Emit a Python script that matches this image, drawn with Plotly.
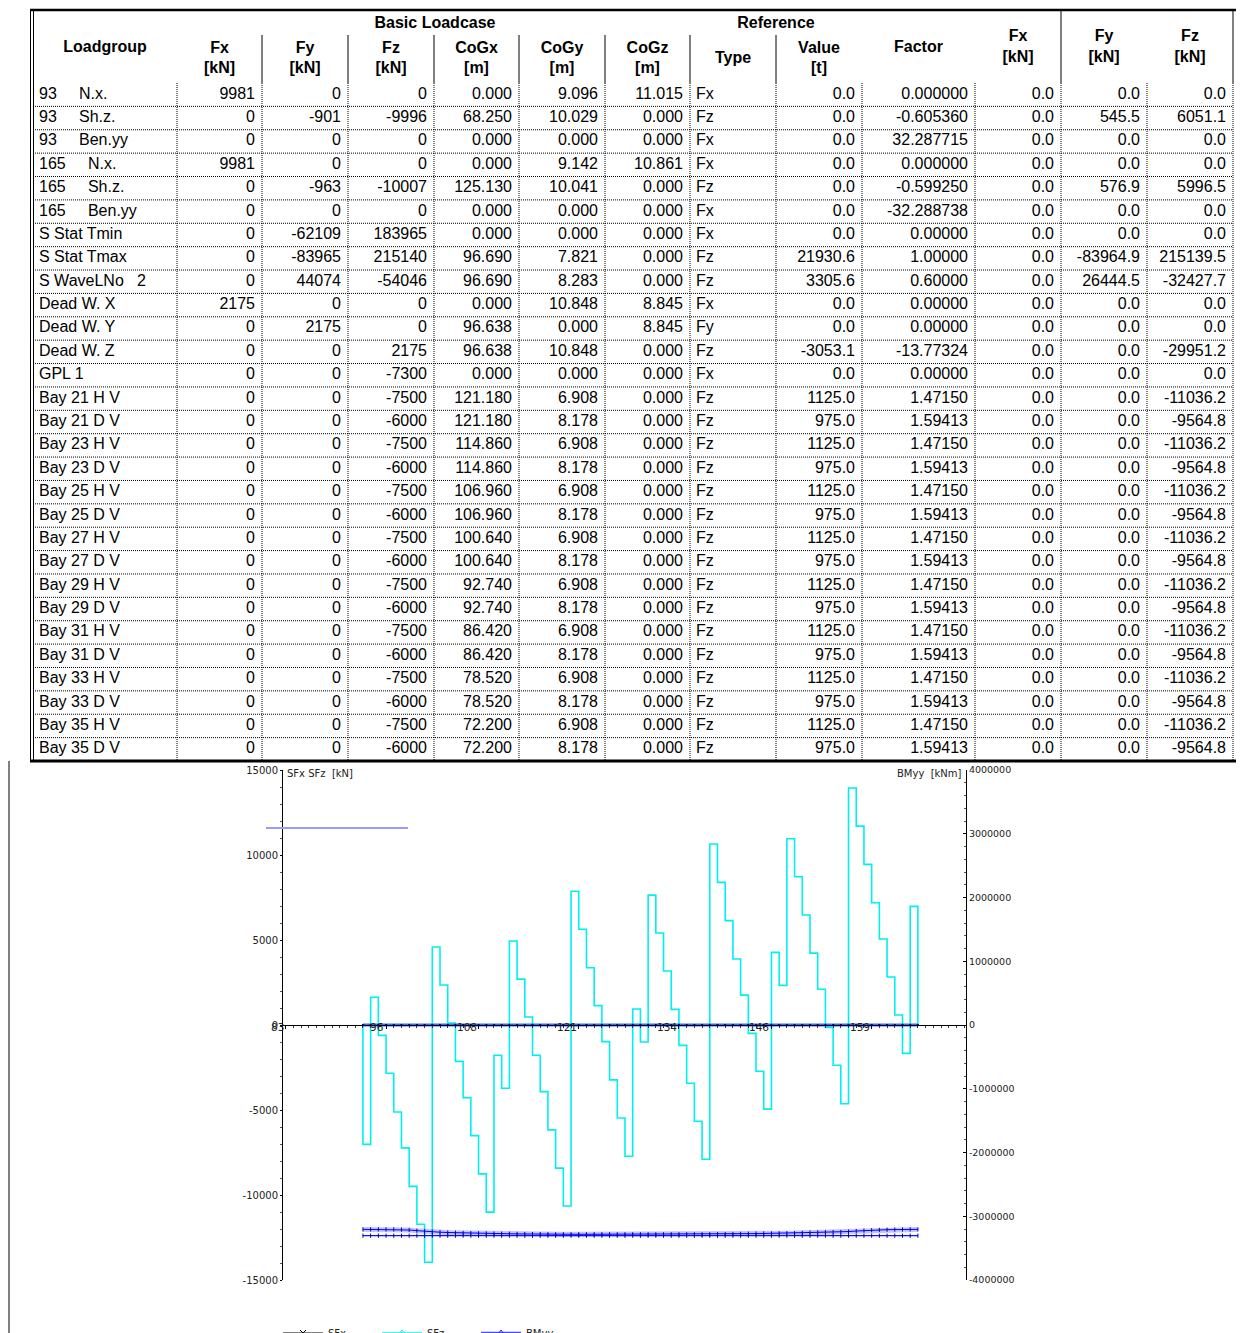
import plotly.graph_objects as go

FIG_W, FIG_H = 1245, 1333
OFF = 8  # page body margin: figure origin sits 8px right/down in the window

# ======================= TABLE DATA =======================
group_labels = ["Basic Loadcase", "Reference"]
column_labels = ["Loadgroup", "Fx<br>[kN]", "Fy<br>[kN]", "Fz<br>[kN]", "CoGx<br>[m]", "CoGy<br>[m]",
                 "CoGz<br>[m]", "Type", "Value<br>[t]", "Factor", "Fx<br>[kN]", "Fy<br>[kN]", "Fz<br>[kN]"]

NB = "\u00a0"
loadgroup = ["93" + NB * 5 + "N.x.", "93" + NB * 5 + "Sh.z.", "93" + NB * 5 + "Ben.yy",
             "165" + NB * 5 + "N.x.", "165" + NB * 5 + "Sh.z.", "165" + NB * 5 + "Ben.yy",
             "S Stat Tmin", "S Stat Tmax", "S WaveLNo" + NB * 3 + "2",
             "Dead W. X", "Dead W. Y", "Dead W. Z", "GPL 1",
             "Bay 21 H V", "Bay 21 D V", "Bay 23 H V", "Bay 23 D V", "Bay 25 H V", "Bay 25 D V",
             "Bay 27 H V", "Bay 27 D V", "Bay 29 H V", "Bay 29 D V", "Bay 31 H V", "Bay 31 D V",
             "Bay 33 H V", "Bay 33 D V", "Bay 35 H V", "Bay 35 D V"]
basic_fx = ["9981", "0", "0", "9981", "0", "0", "0", "0", "0", "2175", "0", "0", "0",
            "0", "0", "0", "0", "0", "0", "0", "0", "0", "0", "0", "0", "0", "0", "0", "0"]
basic_fy = ["0", "-901", "0", "0", "-963", "0", "-62109", "-83965", "44074", "0", "2175", "0", "0",
            "0", "0", "0", "0", "0", "0", "0", "0", "0", "0", "0", "0", "0", "0", "0", "0"]
basic_fz = ["0", "-9996", "0", "0", "-10007", "0", "183965", "215140", "-54046", "0", "0", "2175", "-7300",
            "-7500", "-6000", "-7500", "-6000", "-7500", "-6000", "-7500", "-6000",
            "-7500", "-6000", "-7500", "-6000", "-7500", "-6000", "-7500", "-6000"]
cog_x = ["0.000", "68.250", "0.000", "0.000", "125.130", "0.000", "0.000", "96.690", "96.690", "0.000",
         "96.638", "96.638", "0.000", "121.180", "121.180", "114.860", "114.860", "106.960", "106.960",
         "100.640", "100.640", "92.740", "92.740", "86.420", "86.420", "78.520", "78.520", "72.200", "72.200"]
cog_y = ["9.096", "10.029", "0.000", "9.142", "10.041", "0.000", "0.000", "7.821", "8.283", "10.848",
         "0.000", "10.848", "0.000", "6.908", "8.178", "6.908", "8.178", "6.908", "8.178", "6.908", "8.178",
         "6.908", "8.178", "6.908", "8.178", "6.908", "8.178", "6.908", "8.178"]
cog_z = ["11.015", "0.000", "0.000", "10.861", "0.000", "0.000", "0.000", "0.000", "0.000", "8.845",
         "8.845", "0.000", "0.000", "0.000", "0.000", "0.000", "0.000", "0.000", "0.000", "0.000", "0.000",
         "0.000", "0.000", "0.000", "0.000", "0.000", "0.000", "0.000", "0.000"]
ref_type = ["Fx", "Fz", "Fx", "Fx", "Fz", "Fx", "Fx", "Fz", "Fz", "Fx", "Fy", "Fz", "Fx",
            "Fz", "Fz", "Fz", "Fz", "Fz", "Fz", "Fz", "Fz", "Fz", "Fz", "Fz", "Fz", "Fz", "Fz", "Fz", "Fz"]
ref_value = ["0.0", "0.0", "0.0", "0.0", "0.0", "0.0", "0.0", "21930.6", "3305.6", "0.0", "0.0", "-3053.1",
             "0.0", "1125.0", "975.0", "1125.0", "975.0", "1125.0", "975.0", "1125.0", "975.0",
             "1125.0", "975.0", "1125.0", "975.0", "1125.0", "975.0", "1125.0", "975.0"]
ref_factor = ["0.000000", "-0.605360", "32.287715", "0.000000", "-0.599250", "-32.288738", "0.00000",
              "1.00000", "0.60000", "0.00000", "0.00000", "-13.77324", "0.00000",
              "1.47150", "1.59413", "1.47150", "1.59413", "1.47150", "1.59413", "1.47150", "1.59413",
              "1.47150", "1.59413", "1.47150", "1.59413", "1.47150", "1.59413", "1.47150", "1.59413"]
res_fx = ["0.0", "0.0", "0.0", "0.0", "0.0", "0.0", "0.0", "0.0", "0.0", "0.0", "0.0", "0.0", "0.0",
          "0.0", "0.0", "0.0", "0.0", "0.0", "0.0", "0.0", "0.0", "0.0", "0.0", "0.0", "0.0", "0.0",
          "0.0", "0.0", "0.0"]
res_fy = ["0.0", "545.5", "0.0", "0.0", "576.9", "0.0", "0.0", "-83964.9", "26444.5", "0.0", "0.0", "0.0",
          "0.0", "0.0", "0.0", "0.0", "0.0", "0.0", "0.0", "0.0", "0.0", "0.0", "0.0", "0.0", "0.0",
          "0.0", "0.0", "0.0", "0.0"]
res_fz = ["0.0", "6051.1", "0.0", "0.0", "5996.5", "0.0", "0.0", "215139.5", "-32427.7", "0.0", "0.0",
          "-29951.2", "0.0", "-11036.2", "-9564.8", "-11036.2", "-9564.8", "-11036.2", "-9564.8",
          "-11036.2", "-9564.8", "-11036.2", "-9564.8", "-11036.2", "-9564.8", "-11036.2", "-9564.8",
          "-11036.2", "-9564.8"]

table_columns = [loadgroup, basic_fx, basic_fy, basic_fz, cog_x, cog_y, cog_z,
                 ref_type, ref_value, ref_factor, res_fx, res_fy, res_fz]

# ======================= CHART DATA =======================
frames = list(range(93, 166))                     # frame positions 93 ... 165
x_tick_frames = [83, 96, 108, 121, 134, 146, 159]
x_tick_labels = ["83", "96", "108", "121", "134", "146", "159"]
sf_ticks = [-15000, -10000, -5000, 0, 5000, 10000, 15000]
sf_tick_text = ["-15000", "-10000", "-5000", "0", "5000", "10000", "15000"]
bm_ticks = [-4000000, -3000000, -2000000, -1000000, 0, 1000000, 2000000, 3000000, 4000000]
bm_tick_text = ["-4000000", "-3000000", "-2000000", "-1000000", "0", "1000000", "2000000", "3000000",
                "4000000"]

# shear force SFz per frame interval (frame f .. f+1), kN, f = 93 .. 164
sfz_vals = [-7020, 1630, -610, -2840, -5120, -7230, -9490, -11720, -13960,
            4590, 2350, 120, -2140, -4270, -6510, -8760, -11010,
            -1780, -3720, 4940, 2700, 470, -1780, -3920, -6170, -8420, -10650,
            7870, 5630, 3370, 1140, -980, -3230, -5470, -7720,
            940, -1000, 7640, 5410, 3180, 920, -1200, -3430, -5660, -7900,
            10650, 8390, 6140, 3880, 1760, -490, -2720, -4950,
            4270, 2330, 10960, 8720, 6470, 4230, 2100, -140, -2370, -4630,
            13940, 11700, 9450, 7190, 5060, 2820, 590, -1670, 6980]

# SFx (kN) at each frame
sfx_vals = [0, 0, 0, 0, 0, 0, 0, 0, 0, 0, 0, 0, 0, 0, 0, 0, 0, 0, 0, 0, 0, 0, 0, 0, 0,
            0, 0, 0, 0, 0, 0, 0, 0, 0, 0, 0, 0, 0, 0, 0, 0, 0, 0, 0, 0, 0, 0, 0, 0, 0,
            0, 0, 0, 0, 0, 0, 0, 0, 0, 0, 0, 0, 0, 0, 0, 0, 0, 0, 0, 0, 0, 0, 0]
# BMyy (kNm) at each frame
bmyy_vals = [0, 0, 0, 0, 0, 0, 0, 0, 0, 0, 0, 0, 0, 0, 0, 0, 0, 0, 0, 0, 0, 0, 0, 0, 0,
             0, 0, 0, 0, 0, 0, 0, 0, 0, 0, 0, 0, 0, 0, 0, 0, 0, 0, 0, 0, 0, 0, 0, 0, 0,
             0, 0, 0, 0, 0, 0, 0, 0, 0, 0, 0, 0, 0, 0, 0, 0, 0, 0, 0, 0, 0, 0, 0]
# BMyy limit curves (kNm) at each frame
bm_limit_upper = [-3206000, -3206000, -3206000, -3206000, -3207000, -3210000, -3216000, -3226000,
                  -3237000, -3244000, -3250000, -3255000, -3259000, -3262000, -3265000, -3267000,
                  -3269000, -3271000, -3273000, -3275000, -3277000, -3279000, -3280000, -3281000,
                  -3282000, -3283000, -3283000, -3283000, -3283000, -3283000, -3283000, -3283000,
                  -3283000, -3283000, -3283000, -3283000, -3283000, -3283000, -3283000, -3283000,
                  -3283000, -3283000, -3283000, -3283000, -3283000, -3282000, -3281000, -3280000,
                  -3278000, -3276000, -3274000, -3272000, -3270000, -3269000, -3268000, -3267000,
                  -3264000, -3260000, -3256000, -3252000, -3249000, -3248000, -3247000, -3240000,
                  -3232000, -3225000, -3219000, -3214000, -3211000, -3209000, -3207000, -3206000,
                  -3206000]
bm_limit_lower = [-3305000, -3305000, -3305000, -3305000, -3305000, -3305000, -3305000, -3305000,
                  -3305000, -3305000, -3305000, -3305000, -3305000, -3305000, -3305000, -3305000,
                  -3305000, -3305000, -3305000, -3305000, -3305000, -3305000, -3305000, -3305000,
                  -3305000, -3305000, -3305000, -3305000, -3305000, -3305000, -3305000, -3305000,
                  -3305000, -3305000, -3305000, -3305000, -3305000, -3305000, -3305000, -3305000,
                  -3305000, -3305000, -3305000, -3305000, -3305000, -3305000, -3305000, -3305000,
                  -3305000, -3305000, -3305000, -3305000, -3305000, -3305000, -3305000, -3305000,
                  -3305000, -3305000, -3305000, -3305000, -3305000, -3305000, -3305000, -3305000,
                  -3305000, -3305000, -3305000, -3305000, -3305000, -3305000, -3305000, -3305000,
                  -3305000]
ref_line_y = 11590                  # kN, short reference line at the top left

# ======================= LAYOUT GEOMETRY (window pixels) =======================
def px(x):
    return (x - OFF) / FIG_W


def py(y):
    return (FIG_H + OFF - y) / FIG_H


col_edges = [33, 177, 262, 348, 434, 519, 605, 690, 776, 862, 975, 1061, 1147, 1233]
col_align = ["left", "right", "right", "right", "right", "right", "right",
             "left", "right", "right", "right", "right", "right"]
header_y = [48, 59, 59, 59, 59, 59, 59, 59, 59, 48, 47.5, 47.5, 47.5]
group_x = [435, 776]
group_y = 24
table_top, header_bottom, table_bottom = 10, 83, 761
n_rows = len(loadgroup)
row_h = (table_bottom - header_bottom) / n_rows
row_y = [header_bottom + row_h * (k + 0.5) for k in range(n_rows)]

TFONT = "Liberation Sans, Arial, sans-serif"
CFONT = "DejaVu Sans, Verdana, sans-serif"

fig = go.Figure()

# ---------------- chart traces ----------------
sfz_x = [frames[0]] + frames
sfz_y = [0] + sfz_vals + [0]

fig.add_trace(go.Scatter(x=frames, y=sfx_vals, mode="lines", line=dict(color="black", width=1),
                         showlegend=False, hoverinfo="skip", xaxis="x", yaxis="y"))
fig.add_trace(go.Scatter(x=sfz_x, y=sfz_y, mode="lines", line=dict(color="#00f0f0", width=1.6, shape="hv"),
                         showlegend=False, hoverinfo="skip", xaxis="x", yaxis="y"))
fig.add_trace(go.Scatter(x=frames, y=bm_limit_upper, mode="lines",
                         line=dict(color="rgba(110,110,255,0.40)", width=5),
                         showlegend=False, hoverinfo="skip", xaxis="x", yaxis="y2"))
fig.add_trace(go.Scatter(x=frames, y=bm_limit_upper, mode="lines+markers",
                         line=dict(color="#0000ff", width=1),
                         marker=dict(symbol="line-ns", size=3, line=dict(color="#0000aa", width=1)),
                         showlegend=False, hoverinfo="skip", xaxis="x", yaxis="y2"))
fig.add_trace(go.Scatter(x=frames, y=bm_limit_lower, mode="lines+markers",
                         line=dict(color="#1010ff", width=1.2),
                         marker=dict(symbol="line-ns", size=3, line=dict(color="#0000aa", width=1)),
                         showlegend=False, hoverinfo="skip", xaxis="x", yaxis="y2"))
fig.add_trace(go.Scatter(x=frames, y=bmyy_vals, mode="lines+markers",
                         line=dict(color="#2f6bff", width=3),
                         marker=dict(symbol="square", size=2, color="#0000b0"),
                         showlegend=False, hoverinfo="skip", xaxis="x", yaxis="y2"))

# legend entries
fig.add_trace(go.Scatter(x=[None], y=[None], mode="lines+markers", name="SFx",
                         line=dict(color="black", width=1),
                         marker=dict(symbol="x-thin", size=6, line=dict(color="black", width=1)),
                         xaxis="x", yaxis="y"))
fig.add_trace(go.Scatter(x=[None], y=[None], mode="lines+markers", name="SFz",
                         line=dict(color="#00f0f0", width=1.5),
                         marker=dict(symbol="triangle-up-open", size=6, color="#00f0f0"),
                         xaxis="x", yaxis="y"))
fig.add_trace(go.Scatter(x=[None], y=[None], mode="lines+markers", name="BMyy",
                         line=dict(color="#4a4aff", width=2.5),
                         marker=dict(symbol="triangle-up-open", size=6, color="#2020ff"),
                         xaxis="x", yaxis="y"))

# ---------------- table traces (pixel axes x2 / y3, window coordinates) ----------------
def seg_trace(xs, ys, width=1, dash="solid", color="black"):
    return go.Scatter(x=xs, y=ys, mode="lines", line=dict(color=color, width=width, dash=dash),
                      showlegend=False, hoverinfo="skip", xaxis="x2", yaxis="y3")


# dotted grid
dx, dy = [], []
for k in range(1, n_rows):
    yv = header_bottom + row_h * k
    dx += [col_edges[0], col_edges[-1], None]
    dy += [yv, yv, None]
for e in col_edges[1:]:
    dx += [e, e, None]
    dy += [header_bottom, table_bottom, None]
fig.add_trace(seg_trace(dx, dy, width=1, dash="1px,1px"))

# solid header lines + outer left frame
sx, sy = [], []
for e in col_edges[2:9]:
    sx += [e, e, None]
    sy += [35, header_bottom, None]
for e in [col_edges[11], col_edges[13]]:
    sx += [e, e, None]
    sy += [table_top, header_bottom, None]
sx += [9, 9, None]
sy += [table_bottom, FIG_H + OFF, None]
fig.add_trace(seg_trace(sx, sy, width=1))
# table borders
fig.add_trace(seg_trace([30, 1236], [table_top, table_top], width=2.5))
fig.add_trace(seg_trace([30, 1236], [table_bottom, table_bottom], width=3))
fig.add_trace(seg_trace([30.5, 30.5, None, 33.5, 33.5], [table_top, table_bottom, None, table_top, table_bottom],
                        width=1))

# header texts
fig.add_trace(go.Scatter(x=group_x, y=[group_y, group_y], text=["<b>" + g + "</b>" for g in group_labels],
                         mode="text", textposition="middle center",
                         textfont=dict(family=TFONT, size=16, color="black"),
                         showlegend=False, hoverinfo="skip", xaxis="x2", yaxis="y3"))
col_centers = [(col_edges[i] + col_edges[i + 1]) / 2 for i in range(len(column_labels))]
fig.add_trace(go.Scatter(x=col_centers, y=header_y, text=["<b>" + c + "</b>" for c in column_labels],
                         mode="text", textposition="middle center",
                         textfont=dict(family=TFONT, size=16, color="black"),
                         showlegend=False, hoverinfo="skip", xaxis="x2", yaxis="y3"))

# cell texts
for i, col in enumerate(table_columns):
    if col_align[i] == "left":
        xp = col_edges[i] + 6
        tp = "middle right"
    else:
        xp = col_edges[i + 1] - 7
        tp = "middle left"
    fig.add_trace(go.Scatter(x=[xp] * n_rows, y=row_y, text=col, mode="text", textposition=tp,
                             textfont=dict(family=TFONT, size=16, color="black"),
                             showlegend=False, hoverinfo="skip", xaxis="x2", yaxis="y3"))

# ---------------- annotations ----------------
annos = []
for f, lab in zip(x_tick_frames, x_tick_labels):
    annos.append(dict(x=f, y=0, xref="x", yref="y", text=lab, showarrow=False, xanchor="right",
                      yanchor="middle", yshift=-2, font=dict(family=CFONT, size=10.5, color="#222")))
annos.append(dict(x=px(285), y=py(766), xref="paper", yref="paper",
                  text="SFx SFz" + NB * 2 + "[kN]", showarrow=False, xanchor="left", yanchor="top",
                  font=dict(family=CFONT, size=10, color="#222")))
annos.append(dict(x=px(964), y=py(766), xref="paper", yref="paper",
                  text="BMyy" + NB * 2 + "[kNm]", showarrow=False, xanchor="right", yanchor="top",
                  font=dict(family=CFONT, size=10, color="#222")))

shapes = [dict(type="line", xref="paper", yref="y", x0=px(266), x1=px(408),
               y0=ref_line_y, y1=ref_line_y, line=dict(color="#9a9aff", width=2))]

x_dom = [px(283), px(966)]
y_dom = [py(1280), py(770)]

fig.update_layout(
    width=FIG_W, height=FIG_H,
    margin=dict(l=0, r=0, t=0, b=0, autoexpand=False),
    paper_bgcolor="white", plot_bgcolor="rgba(0,0,0,0)",
    font=dict(family=CFONT, size=10, color="#222"),
    xaxis=dict(domain=x_dom, range=[82.63, 171.24], anchor="free", position=py(1025),
               showline=True, linecolor="black", linewidth=1, showgrid=False, zeroline=False,
               showticklabels=False, ticks="outside", ticklen=3, tickcolor="black",
               tickmode="array", tickvals=x_tick_frames,
               minor=dict(ticks="outside", ticklen=2, tickmode="linear", tick0=0, dtick=1,
                          tickcolor="#333", showgrid=False),
               fixedrange=True),
    yaxis=dict(domain=y_dom, range=[-15000, 15000], anchor="x", showline=True, linecolor="black",
               linewidth=1, showgrid=False, zeroline=False, ticks="outside", ticklen=2, tickcolor="black",
               tickmode="array", tickvals=sf_ticks, ticktext=sf_tick_text,
               tickfont=dict(family=CFONT, size=10, color="#222"),
               minor=dict(ticks="outside", ticklen=2, tickmode="linear", tick0=0, dtick=1000,
                          tickcolor="#555", showgrid=False),
               fixedrange=True),
    yaxis2=dict(overlaying="y", side="right", anchor="x", range=[-4000000, 4000000], showline=True,
                linecolor="black", linewidth=1, showgrid=False, zeroline=False, ticks="inside",
                ticklen=3, tickcolor="black", tickmode="array", tickvals=bm_ticks, ticktext=bm_tick_text,
                tickfont=dict(family=CFONT, size=9.5, color="#222"),
                minor=dict(ticks="inside", ticklen=2, tickmode="linear", tick0=0, dtick=200000,
                           tickcolor="#555", showgrid=False),
                fixedrange=True),
    xaxis2=dict(domain=[0, 1], range=[OFF, FIG_W + OFF], anchor="y3", visible=False, fixedrange=True),
    yaxis3=dict(domain=[0, 1], range=[FIG_H + OFF, OFF], anchor="x2", visible=False, fixedrange=True),
    legend=dict(orientation="h", x=px(283 - 5), xanchor="left", y=py(1333), yanchor="middle",
                font=dict(family=CFONT, size=10, color="#222"), itemwidth=40, entrywidth=44,
                bgcolor="rgba(0,0,0,0)", borderwidth=0),
    annotations=annos,
    shapes=shapes,
    showlegend=True,
)

fig.write_html("out.html")
